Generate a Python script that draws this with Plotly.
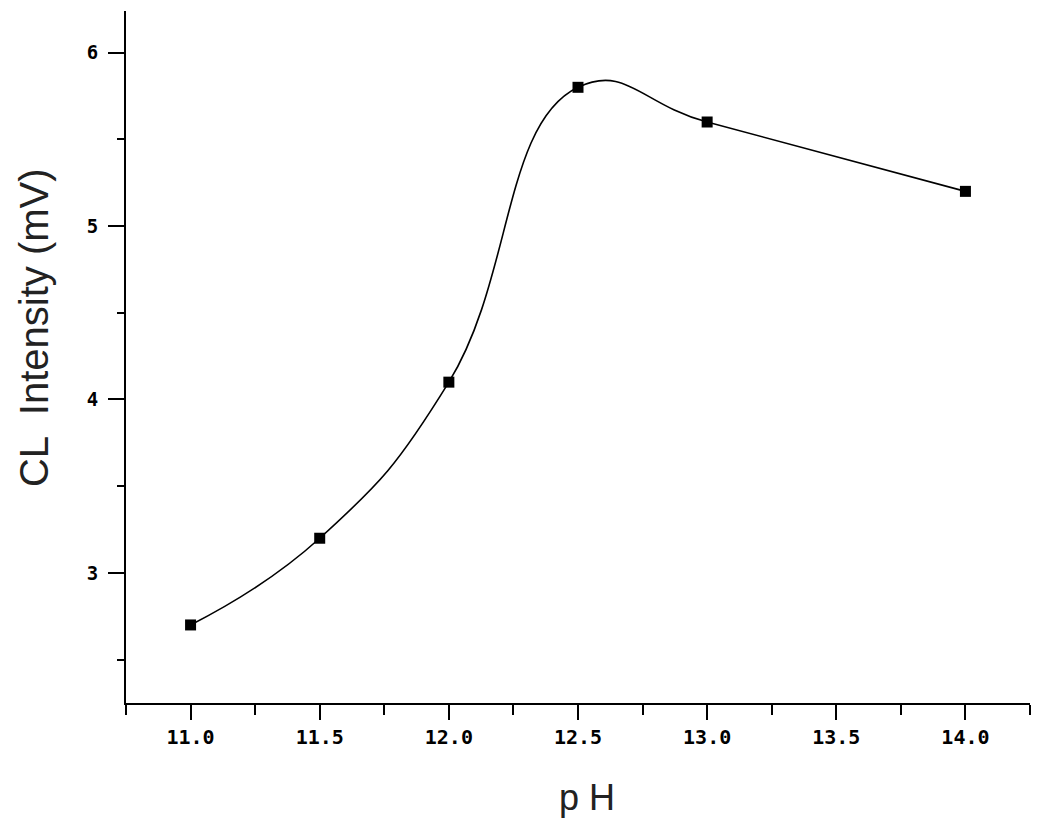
import plotly.graph_objects as go

ph = [11.0, 11.5, 12.0, 12.5, 13.0, 14.0]
intensity = [2.70, 3.20, 4.10, 5.80, 5.60, 5.20]

x_ticks = [11.0, 11.5, 12.0, 12.5, 13.0, 13.5, 14.0]
y_ticks = [3, 4, 5, 6]

fig = go.Figure()
fig.add_trace(go.Scatter(
    x=ph, y=intensity, mode="lines+markers",
    line=dict(color="black", width=1.6, shape="spline", smoothing=1.3),
    marker=dict(symbol="square", size=11, color="black"),
    showlegend=False,
))

fig.update_layout(
    width=1050, height=837,
    margin=dict(l=118, r=28, t=3, b=142),
    paper_bgcolor="white", plot_bgcolor="white",
    xaxis=dict(
        range=[10.75, 14.25], tickvals=x_ticks, ticktext=[f"{v:.1f}" for v in x_ticks],
        ticks="outside", ticklen=15, tickwidth=2, tickcolor="black",
        showline=True, linecolor="black", linewidth=2, showgrid=False, zeroline=False,
        tickfont=dict(family="DejaVu Sans Mono", size=20, color="black", weight="bold"),
        minor=dict(dtick=0.25, tick0=10.75, ticks="outside", ticklen=10, tickwidth=2, tickcolor="black", showgrid=False),
    ),
    yaxis=dict(
        range=[2.25, 6.24], tickvals=y_ticks, ticktext=[str(v) for v in y_ticks],
        ticks="outside", ticklen=16, tickwidth=2, tickcolor="black",
        showline=True, linecolor="black", linewidth=2, showgrid=False, zeroline=False,
        ticklabelstandoff=6,
        tickfont=dict(family="DejaVu Sans Mono", size=19, color="black", weight="bold"),
        minor=dict(dtick=0.5, tick0=2.5, ticks="outside", ticklen=7, tickwidth=2, tickcolor="black", showgrid=False),
    ),
    annotations=[
        dict(text="CL  Intensity (mV)", xref="paper", yref="paper", x=-0.102, y=0.543,
             xanchor="center", yanchor="middle", textangle=-90, showarrow=False,
             font=dict(family="Liberation Sans", size=40, color="#222")),
        dict(text="p H", xref="paper", yref="paper", x=0.51, y=-0.136,
             xanchor="center", yanchor="middle", showarrow=False,
             font=dict(family="Liberation Sans", size=36, color="#222")),
    ],
)

fig.write_html("out.html")
